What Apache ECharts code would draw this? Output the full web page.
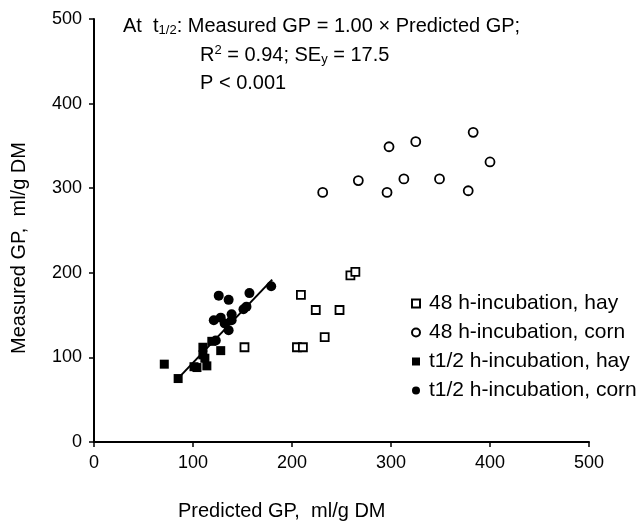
<!DOCTYPE html>
<html>
<head>
<meta charset="utf-8">
<script src="https://cdn.jsdelivr.net/npm/echarts@6/dist/echarts.min.js"></script>
<style>
html,body{margin:0;padding:0;background:#fff;}
#chart{width:641px;height:522px;}
</style>
</head>
<body>
<div id="chart"></div>
<script>
// ---- data (Predicted GP, Measured GP), ml/g DM ----
var xTicks = [0, 100, 200, 300, 400, 500];
var yTicks = [0, 100, 200, 300, 400, 500];

var hay48 = [[152,112],[205,112],[211,112],[209,174],[224,156],[233,124],[248,156],[259,197],[264,201]];
var corn48 = [[231,295],[267,309],[296,295],[298,349],[313,311],[325,355],[349,311],[383,366],[400,331],[378,297]];
var hayHalf = [[71,92],[85,75],[101,89],[104,88],[114,90],[110,112],[110,103],[112,99],[119,119],[128,108]];
var cornHalf = [[126,173],[136,168],[157,176],[179,184],[121,144],[128,147],[139,151],[139,144],[132,140],[136,132],[151,157],[154,160],[123,120]];
var fitLine = [[84,74],[180,192]];

var names = ['48 h-incubation, hay', '48 h-incubation, corn', 't1/2 h-incubation, hay', 't1/2 h-incubation, corn'];

var FONT = 'Liberation Sans, Arial, sans-serif';
var chart = echarts.init(document.getElementById('chart'), null, {renderer: 'canvas'});

function axis(ticks) {
  return {
    type: 'value', min: ticks[0], max: ticks[ticks.length - 1], interval: ticks[1] - ticks[0],
    axisLine: {show: true, lineStyle: {color: '#000', width: 2}},
    axisTick: {show: true, inside: false, length: 5, lineStyle: {color: '#000', width: 1.5}},
    axisLabel: {color: '#000', fontSize: 18, fontFamily: FONT, margin: 12},
    splitLine: {show: false}
  };
}

var openStyle = {color: '#fff', borderColor: '#000', borderWidth: 1.8, opacity: 1};
var fillStyle = {color: '#000', borderColor: '#000', borderWidth: 0, opacity: 1};

chart.setOption({
  animation: false,
  backgroundColor: '#fff',
  grid: {left: 94, right: 52, top: 19, bottom: 80, containLabel: false},
  xAxis: axis(xTicks),
  yAxis: axis(yTicks),
  legend: {
    data: names,
    orient: 'vertical',
    left: 406, top: 288,
    itemWidth: 8, itemHeight: 8, itemGap: 8,
    textStyle: {color: '#000', fontSize: 21, fontFamily: FONT, padding: [0, 0, 0, 4]}
  },
  series: [
    {name: names[0], type: 'scatter', symbol: 'rect', symbolSize: 8, data: hay48, itemStyle: openStyle, z: 3},
    {name: names[1], type: 'scatter', symbol: 'circle', symbolSize: 9, data: corn48, itemStyle: openStyle, z: 3},
    {name: names[2], type: 'scatter', symbol: 'rect', symbolSize: 9, data: hayHalf, itemStyle: fillStyle, z: 4},
    {name: names[3], type: 'scatter', symbol: 'circle', symbolSize: 10, data: cornHalf, itemStyle: fillStyle, z: 4},
    {name: 'fit', type: 'line', data: fitLine, symbol: 'none', lineStyle: {color: '#000', width: 2}, z: 5, silent: true}
  ],
  graphic: [
    {type: 'text', left: 123, top: 16, style: {
      rich: {
        n: {fontSize: 20, fontFamily: FONT, fill: '#000'},
        sub: {fontSize: 13, fontFamily: FONT, fill: '#000', padding: [9, 0, 0, 0]}
      },
      text: '{n|At  t}{sub|1/2}{n|: Measured GP = 1.00 × Predicted GP;}'
    }},
    {type: 'text', left: 200, top: 44, style: {
      rich: {
        n: {fontSize: 20, fontFamily: FONT, fill: '#000'},
        sup: {fontSize: 13, fontFamily: FONT, fill: '#000', padding: [0, 0, 9, 0]},
        sub: {fontSize: 13, fontFamily: FONT, fill: '#000', padding: [9, 0, 0, 0]}
      },
      text: '{n|R}{sup|2}{n| = 0.94; SE}{sub|y}{n| = 17.5}'
    }},
    {type: 'text', left: 200, top: 73, style: {text: 'P < 0.001', fontSize: 20, fontFamily: FONT, fill: '#000'}},
    {type: 'text', left: 178, top: 501, style: {text: 'Predicted GP,  ml/g DM', fontSize: 20, fontFamily: FONT, fill: '#000'}},
    {type: 'text', x: 9, y: 248, rotation: Math.PI / 2, style: {text: 'Measured GP,  ml/g DM', fontSize: 20, fontFamily: FONT, fill: '#000', align: 'center', verticalAlign: 'top'}}
  ]
});
</script>
</body>
</html>
